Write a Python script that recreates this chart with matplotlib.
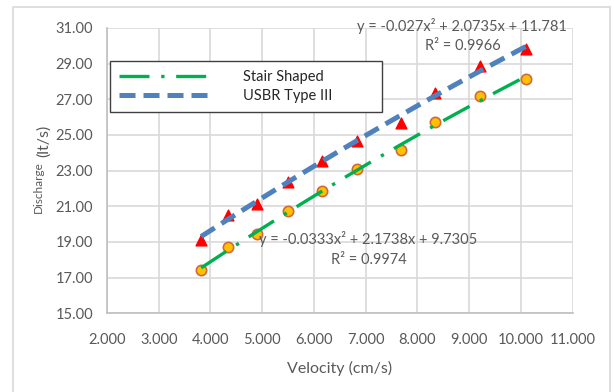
import numpy as np
import matplotlib.pyplot as plt
from matplotlib.patches import Rectangle

plt.rcParams['font.family'] = ['Lato', 'DejaVu Sans']

# measured velocity (cm/s) and discharge (lt/s)
velocity = [3.82, 4.33, 4.89, 5.50, 6.15, 6.84, 7.69, 8.34, 9.20, 10.09]
q_stair = [17.43, 18.72, 19.46, 20.72, 21.88, 23.08, 24.18, 25.73, 27.19, 28.14]
q_usbr = [19.10, 20.51, 21.13, 22.38, 23.56, 24.68, 25.69, 27.34, 28.89, 29.84]

# polynomial trendline coefficients (a, b, c) and R^2
fit_stair = [-0.0333, 2.1738, 9.7305]
r2_stair = 0.9974
fit_usbr = [-0.027, 2.0735, 11.781]
r2_usbr = 0.9966

xticks = np.arange(2, 12, 1)
yticks = np.arange(15, 33, 2)

TXT = '#595959'
GRID = '#D9D9D9'
W, H = 614, 392

fig = plt.figure(figsize=(W / 100, H / 100), dpi=100)
ax = fig.add_axes([0.1743, 0.2008, 0.9327 - 0.1743, 0.9286 - 0.2008])


def px_text(x, y, s, **kw):
    # place text by pixel position measured from the top-left corner
    fig.text(x / W, 1 - y / H, s, color=TXT, **kw)


def eq_label(coef):
    a, b, c = coef
    return 'y = %gx² + %gx + %g' % (a, b, c)


# outer chart border
fig.patches.append(Rectangle((12.5 / W, -0.1), (610 - 12.5) / W, 1.1 - 7 / H,
                             transform=fig.transFigure, fill=False,
                             edgecolor=GRID, linewidth=1.2))

ax.scatter(velocity, q_stair, s=55, color='#FFC000', edgecolors='#D2693C',
           linewidths=1.2, zorder=3)
ax.scatter(velocity, q_usbr, s=60, marker='^', color='#FF0000', zorder=3)

xs = np.linspace(min(velocity), max(velocity), 200)
ax.plot(xs, np.polyval(fit_stair, xs), color='#00B050', lw=2.4,
        dashes=(9, 3.5, 1, 3.5), zorder=4, label='Stair Shaped')
ax.plot(xs, np.polyval(fit_usbr, xs), color='#4F81BD', lw=3.6,
        dashes=(3.2, 1.6), zorder=4, label='USBR Type III')

px_text(462, 26, eq_label(fit_usbr), ha='center', va='center', fontsize=10.5)
px_text(463, 46, 'R² = %.4f' % r2_usbr, ha='center', va='center', fontsize=10.5)
px_text(368, 239, eq_label(fit_stair), ha='center', va='center', fontsize=10.5)
px_text(369, 260, 'R² = %.4f' % r2_stair, ha='center', va='center', fontsize=10.5)

leg = ax.legend(loc='upper left', bbox_to_anchor=(0.0064, 0.702, 0.584, 0.182),
                mode='expand', fancybox=False, framealpha=1, edgecolor='#404040',
                fontsize=10.5, handlelength=6.2, handletextpad=2.3,
                borderpad=0.6, labelspacing=0.35, borderaxespad=0)
leg.get_frame().set_linewidth(1.0)
for t in leg.get_texts():
    t.set_color('#262626')

ax.set_xlim(2, 11)
ax.set_ylim(15, 31)
ax.set_xticks(xticks)
ax.set_yticks(yticks)
ax.set_xticklabels(['%.3f' % v for v in xticks])
ax.set_yticklabels(['%.2f' % v for v in yticks])
ax.tick_params(length=0, labelsize=10.5, labelcolor=TXT)
ax.tick_params(axis='x', pad=14)
ax.tick_params(axis='y', pad=10)
ax.grid(True, color=GRID, lw=1.2)
ax.set_axisbelow(True)
for side in ['top', 'right']:
    ax.spines[side].set_visible(False)
for side in ['left', 'bottom']:
    ax.spines[side].set_color('#BFBFBF')
    ax.spines[side].set_linewidth(1.2)

ax.set_xlabel('Velocity (cm/s)', fontsize=11.5, color=TXT, labelpad=10)
px_text(38, 187, 'Discharge', rotation=90, ha='center', va='center', fontsize=8.5)
px_text(44, 141, '(lt/s)', rotation=90, ha='center', va='center', fontsize=11.5)

fig.savefig('out.png', dpi=100)
